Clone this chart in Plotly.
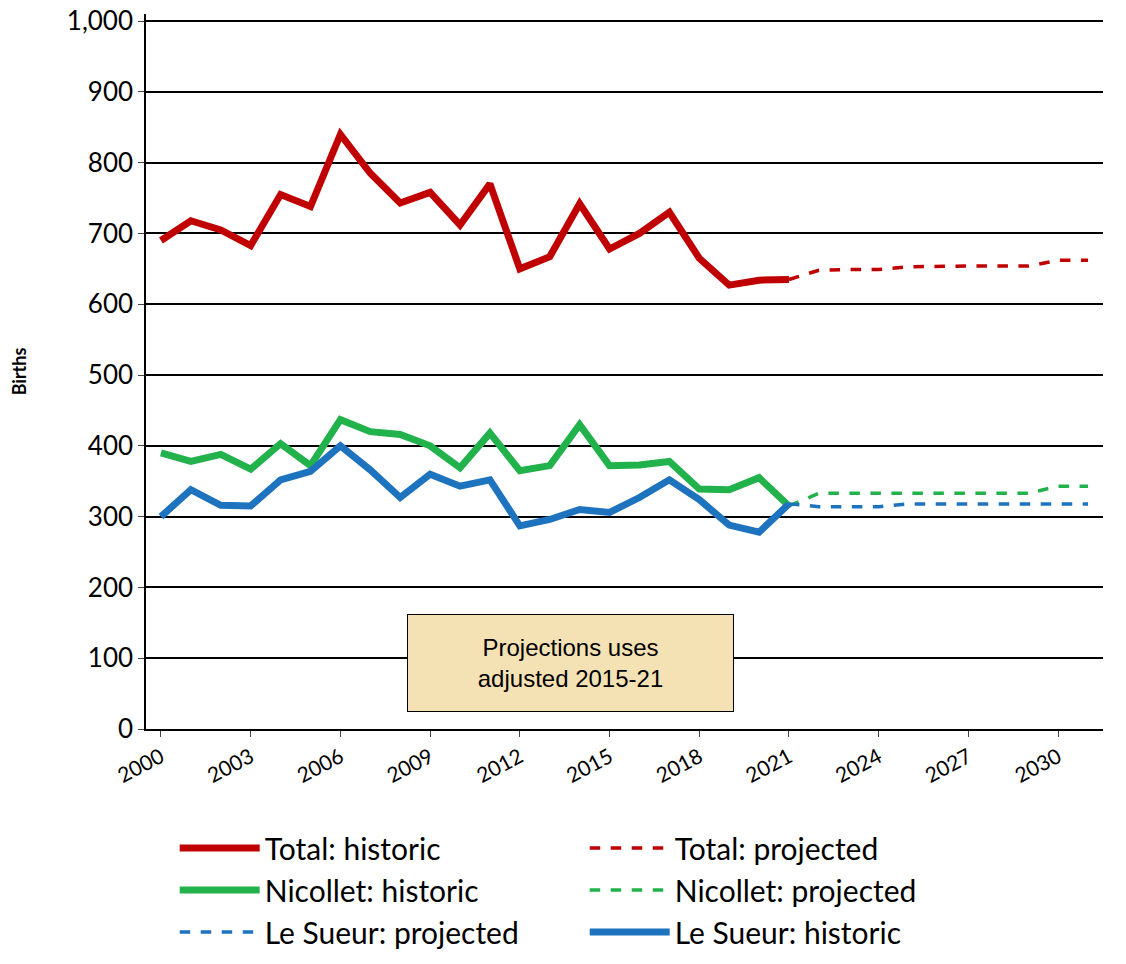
import plotly.graph_objects as go

years = [str(y) for y in range(2000, 2032)]
hist_years = years[:22]
proj_years = years[21:]

total_hist = [690, 718, 705, 683, 755, 738, 840, 785, 743, 758, 712, 770, 650, 667, 742, 678, 700, 730, 665, 627, 634, 635]
total_proj = [635, 648, 649, 649, 653, 654, 654, 654, 654, 662, 662]
nic_hist = [390, 378, 388, 367, 403, 372, 437, 420, 416, 400, 369, 418, 365, 372, 430, 372, 373, 378, 339, 338, 355, 315]
nic_proj = [315, 333, 333, 333, 333, 333, 333, 333, 333, 343, 343]
ls_hist = [300, 338, 316, 315, 352, 364, 400, 366, 327, 360, 343, 352, 287, 296, 310, 306, 327, 352, 324, 288, 278, 318]
ls_proj = [318, 314, 314, 314, 318, 318, 318, 318, 318, 318, 318]
tick_labels = [y for y in years if (int(y) - 2000) % 3 == 0]

RED, GREEN, BLUE = "#C00000", "#22B24C", "#1E73BE"

fig = go.Figure()
def add(x, y, name, color, dash):
    fig.add_trace(go.Scatter(x=x, y=y, name=name, mode="lines",
        line=dict(color=color, width=7 if dash == "solid" else 3.5, dash=dash)))

add(hist_years, total_hist, "Total: historic", RED, "solid")
add(proj_years, total_proj, "Total: projected", RED, "dash")
add(hist_years, nic_hist, "Nicollet: historic", GREEN, "solid")
add(proj_years, nic_proj, "Nicollet: projected", GREEN, "dash")
add(proj_years, ls_proj, "Le Sueur: projected", BLUE, "dash")
add(hist_years, ls_hist, "Le Sueur: historic", BLUE, "solid")

fig.add_annotation(x=13.7, y=93, xref="x", yref="y", text="Projections uses<br>adjusted 2015-21",
    showarrow=False, bgcolor="#F5E2B4", bordercolor="#000", borderwidth=1, borderpad=10,
    width=305, height=76,
    font=dict(family="Liberation Sans", size=24, color="#000"), xanchor="center", yanchor="middle")

fig.update_layout(
    width=1126, height=964, plot_bgcolor="white", paper_bgcolor="white",
    margin=dict(l=138, r=31, t=6, b=243),
    font=dict(family="Lato", size=26, color="#000"),
    showlegend=True,
    legend=dict(orientation="h", x=0.03, y=-0.13, xanchor="left", yanchor="top",
        entrywidth=315, entrywidthmode="pixels", font=dict(size=30), tracegroupgap=0,
        itemwidth=80),
    xaxis=dict(type="category", categoryorder="array", categoryarray=years,
        tickmode="array", tickvals=tick_labels, ticktext=tick_labels, tickangle=-28,
        showline=True, linecolor="#000", linewidth=1.5, showgrid=False, automargin=False,
        ticks="outside", ticklen=6, tickfont=dict(size=21), range=[-0.5, 31.5]),
    yaxis=dict(range=[0, 1010], tickmode="array", tickvals=list(range(0, 1001, 100)),
        tickformat=",", showline=True, linecolor="#000", ticklabeloverflow="allow",
        linewidth=1.5, gridcolor="#000", gridwidth=1.5, ticks="outside", ticklen=6, automargin=False,
        title=dict(text="<b>Births</b>", font=dict(size=18), standoff=70), zeroline=False),
)
fig.write_html("out.html")
